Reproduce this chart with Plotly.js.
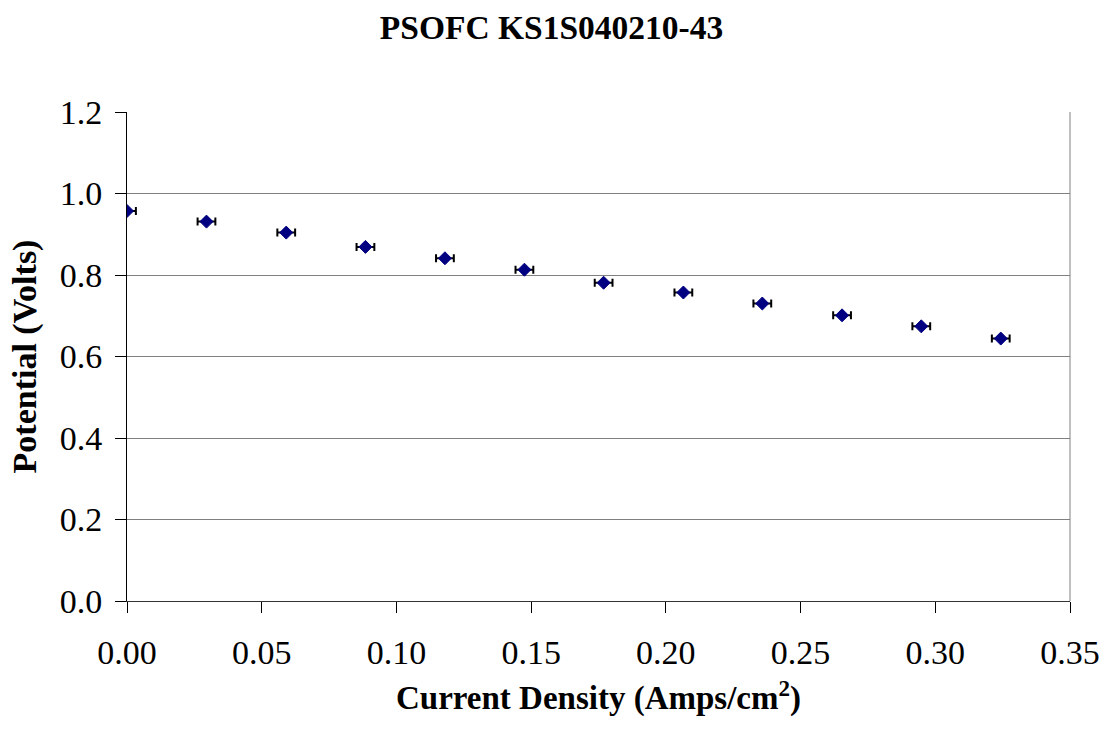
<!DOCTYPE html>
<html>
<head>
<meta charset="utf-8">
<script src="https://cdn.plot.ly/plotly-3.0.1.min.js"></script>
<style>html,body{margin:0;padding:0;background:#fff;}#chart{width:1103px;height:731px;}</style>
</head>
<body>
<div id="chart"></div>
<script>
// Data
const currentDensity = [0.000, 0.0295, 0.0591, 0.0885, 0.118, 0.1475, 0.1769, 0.2065, 0.2358, 0.2654, 0.2948, 0.3243];
const potential = [0.957, 0.931, 0.904, 0.869, 0.841, 0.813, 0.781, 0.757, 0.730, 0.701, 0.674, 0.644];
const currentError = [0.0033, 0.0033, 0.0033, 0.0033, 0.0033, 0.0033, 0.0033, 0.0033, 0.0033, 0.0033, 0.0033, 0.0033];
const xTickVals = [0, 0.05, 0.10, 0.15, 0.20, 0.25, 0.30, 0.35];
const xTickText = ['0.00', '0.05', '0.10', '0.15', '0.20', '0.25', '0.30', '0.35'];
const yTickVals = [0, 0.2, 0.4, 0.6, 0.8, 1.0, 1.2];
const yTickText = ['0.0', '0.2', '0.4', '0.6', '0.8', '1.0', '1.2'];

const FONT = '"Liberation Serif", "Times New Roman", serif';

const trace = {
  x: currentDensity,
  y: potential,
  type: 'scatter',
  mode: 'markers',
  marker: {symbol: 'diamond', size: 10, color: '#000080', line: {color: '#000080', width: 1}},
  error_x: {type: 'data', array: currentError, visible: true, color: '#000000', thickness: 2, width: 4},
  cliponaxis: true,
  showlegend: false
};

const layout = {
  width: 1103,
  height: 731,
  paper_bgcolor: '#ffffff',
  plot_bgcolor: '#ffffff',
  margin: {l: 127, r: 33, t: 112, b: 130},
  font: {family: FONT, color: '#000000'},
  title: {
    text: '<b>PSOFC KS1S040210-43</b>',
    font: {family: FONT, size: 33.5, color: '#000000'},
    x: 0.5, xref: 'container', xanchor: 'center',
    y: 1 - 27/731, yref: 'container', yanchor: 'middle'
  },
  xaxis: {
    range: [0, 0.35],
    tickvals: xTickVals,
    ticktext: xTickText,
    ticks: 'outside',
    ticklen: 11,
    tickwidth: 1,
    tickcolor: '#000000',
    ticklabelstandoff: 10,
    tickfont: {family: FONT, size: 34, color: '#000000'},
    showline: true,
    linecolor: '#333333',
    linewidth: 1,
    mirror: false,
    showgrid: false,
    zeroline: false,
    title: {text: '<b>Current Density (Amps/cm<sup>2</sup>)</b>', font: {family: FONT, size: 33, color: '#000000'}, standoff: 16}
  },
  yaxis: {
    range: [0, 1.2],
    tickvals: yTickVals,
    ticktext: yTickText,
    ticks: 'outside',
    ticklen: 11,
    tickwidth: 1,
    tickcolor: '#000000',
    ticklabelstandoff: 6,
    tickfont: {family: FONT, size: 34, color: '#000000'},
    showline: true,
    linecolor: '#000000',
    linewidth: 1,
    showgrid: true,
    gridcolor: '#808080',
    gridwidth: 1,
    zeroline: false,
    title: {text: '<b>Potential (Volts)</b>', font: {family: FONT, size: 34, color: '#000000'}, standoff: 12}
  },
  shapes: [
    {type: 'line', xref: 'paper', yref: 'paper', x0: 1, x1: 1, y0: 0, y1: 1, line: {color: '#808080', width: 1}}
  ]
};

Plotly.newPlot('chart', [trace], layout, {displayModeBar: false, staticPlot: true});
</script>
</body>
</html>
